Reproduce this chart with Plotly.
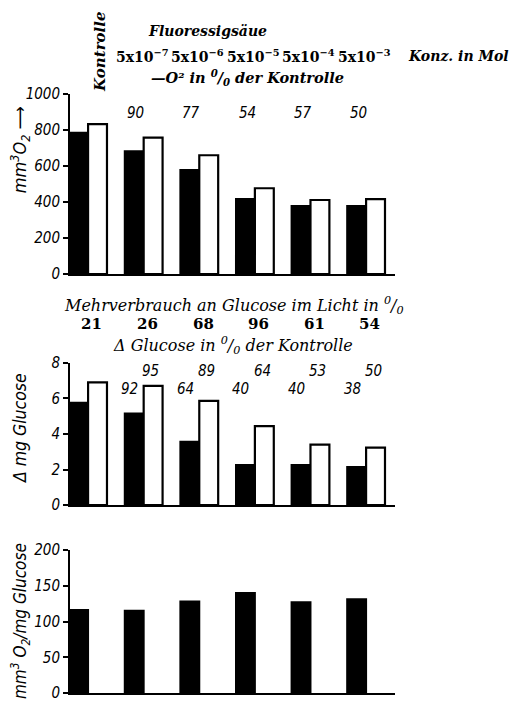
import plotly.graph_objects as go

# ---------------- data ----------------
groups = [0, 1, 2, 3, 4, 5]  # Kontrolle, 5x10^-7 ... 5x10^-3
conc_labels = ["5x10<sup>−7</sup>", "5x10<sup>−6</sup>", "5x10<sup>−5</sup>",
               "5x10<sup>−4</sup>", "5x10<sup>−3</sup>"]
o2_dark = [784, 681, 578, 416, 378, 378]
o2_light = [832, 757, 659, 476, 411, 416]
o2_pct = ["90", "77", "54", "57", "50"]

glc_dark = [5.75, 5.15, 3.56, 2.25, 2.25, 2.14]
glc_light = [6.9, 6.7, 5.86, 4.44, 3.4, 3.23]
glc_pct_light = ["95", "89", "64", "53", "50"]
glc_pct_dark = ["92", "64", "40", "40", "38"]
mehr_pct = ["21", "26", "68", "96", "61", "54"]

ratio = [116, 115, 128, 140, 127, 131]

top_ticks = [0, 200, 400, 600, 800, 1000]
mid_ticks = [0, 2, 4, 6, 8]
bot_ticks = [0, 50, 100, 150, 200]

# ---------------- layout helpers ----------------
W, H = 513, 709
def py(px):
    return 1 - px / H

SANS = "DejaVu Sans Condensed"
SERIF = "DejaVu Serif"
BW = 0.34

fig = go.Figure()

def add_pair(dark, light, xa, ya):
    fig.add_trace(go.Bar(x=groups, y=dark, width=BW, offset=-BW,
                         marker=dict(color="black", line=dict(color="black", width=2)),
                         xaxis=xa, yaxis=ya, showlegend=False))
    if light is not None:
        fig.add_trace(go.Bar(x=groups, y=light, width=BW, offset=0,
                             marker=dict(color="white", line=dict(color="black", width=2.2)),
                             xaxis=xa, yaxis=ya, showlegend=False))

add_pair(o2_dark, o2_light, "x", "y")
add_pair(glc_dark, glc_light, "x2", "y2")
add_pair(ratio, None, "x3", "y3")

xdom = [70 / W, 395 / W]
xrange_ = [-0.325, 5.52]
xcommon = dict(range=xrange_, domain=xdom, showline=True, linecolor="black", linewidth=2,
               showticklabels=False, ticks="", showgrid=False, zeroline=False, fixedrange=True)
ycommon = dict(showline=True, linecolor="black", linewidth=2, ticks="outside", ticklen=5,
               tickwidth=1.5, tickcolor="black", showgrid=False, zeroline=False,
               tickfont=dict(family=SANS, size=15, color="black", style="italic"))

fig.update_layout(
    width=W, height=H, margin=dict(l=0, r=0, t=0, b=0),
    paper_bgcolor="white", plot_bgcolor="white", barmode="overlay",
    font=dict(family=SERIF, color="black"),
    xaxis=dict(**xcommon, anchor="y"),
    xaxis2=dict(**xcommon, anchor="y2"),
    xaxis3=dict(**xcommon, anchor="y3"),
    yaxis=dict(**ycommon, anchor="x", range=[0, 1000], tickvals=top_ticks,
               domain=[py(272), py(87)]),
    yaxis2=dict(**ycommon, anchor="x2", range=[0, 8], tickvals=mid_ticks,
                domain=[py(509), py(363)]),
    yaxis3=dict(**ycommon, anchor="x3", range=[0, 200], tickvals=bot_ticks,
                domain=[py(702), py(555)]),
)

ann = []
def A(text, x, y, xref="paper", size=16, family=SERIF, angle=0, xanchor="center"):
    ann.append(dict(text=text, x=x, y=y, xref=xref, yref="paper", showarrow=False,
                    font=dict(family=family, size=size, color="black"), textangle=angle,
                    xanchor=xanchor, yanchor="middle"))

PCT = "<sup>0</sup>/<sub>0</sub>"

# header
A("<b><i>Kontrolle</i></b>", 100 / W, py(44), angle=-90, size=15)
A("<b><i>Fluoressigsäue</i></b>", 207 / W, py(23), size=14)
for i, t in enumerate(conc_labels):
    A("<b>" + t + "</b>", groups[i + 1] - 0.03, py(48), xref="x", size=14)
A("<b><i>Konz. in Mol</i></b>", 511 / W, py(48), size=14, xanchor="right")
A("<b><i>—O² in " + PCT + " der Kontrolle</i></b>", 247 / W, py(70), size=14.5)

# top percent labels
for i, t in enumerate(o2_pct):
    A("<i>" + t + "</i>", groups[i + 1] - 0.14, py(107), xref="x", family=SANS, size=15)

# middle header texts
A("<i>Mehrverbrauch an Glucose im Licht in " + PCT + "</i>", 234 / W, py(304), size=16)
for i, t in enumerate(mehr_pct):
    A("<b>" + t + "</b>", groups[i] + 0.07, py(323), xref="x2", size=15)
A("<i>Δ Glucose in " + PCT + " der Kontrolle</i>", 233 / W, py(345), size=16)

# middle percent labels
for i, t in enumerate(glc_pct_light):
    A("<i>" + t + "</i>", groups[i + 1] + 0.13, py(371), xref="x2", family=SANS, size=15)
for i, t in enumerate(glc_pct_dark):
    A("<i>" + t + "</i>", groups[i + 1] - 0.25, py(390), xref="x2", family=SANS, size=15)

# y-axis titles
A("<i>mm<sup>3</sup>O<sub>2</sub> ⟶</i>", 20 / W, py(145), angle=-90, family=SANS, size=18)
A("<i>Δ mg Glucose</i>", 20 / W, py(430), angle=-90, family=SANS, size=17.5)
A("<i>mm<sup>3</sup> O<sub>2</sub>/mg Glucose</i>", 20 / W, py(628), angle=-90, family=SANS, size=17)

fig.update_layout(annotations=ann)
fig.write_html("out.html")
